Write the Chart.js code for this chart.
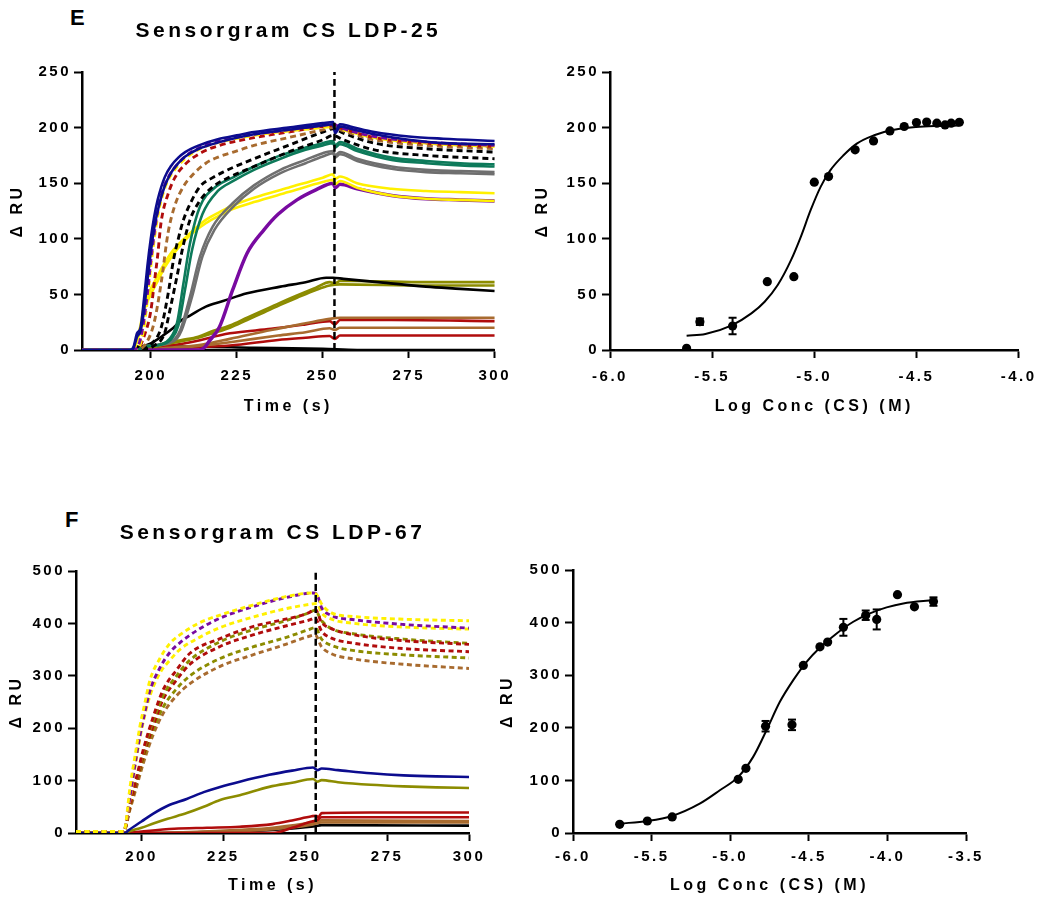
<!DOCTYPE html>
<html>
<head>
<meta charset="utf-8">
<script src="https://cdn.jsdelivr.net/npm/chart.js@4.4.1/dist/chart.umd.min.js"></script>
<style>
  body { margin: 0; background: #fff; width: 1046px; height: 899px; position: relative; overflow: hidden;
         font-family: "Liberation Sans", Arial, sans-serif; }
  canvas { position: absolute; }
  .tag { position: absolute; font-weight: bold; font-size: 22px; line-height: 22px; }
</style>
</head>
<body>
<div class="tag" style="left:70px;top:7px">E</div>
<div class="tag" style="left:65px;top:509px">F</div>
<canvas id="sensorE" width="520" height="440" style="left:0;top:0"></canvas>
<canvas id="doseE" width="526" height="440" style="left:520px;top:0"></canvas>
<canvas id="sensorF" width="520" height="439" style="left:0;top:460px"></canvas>
<canvas id="doseF" width="556" height="439" style="left:490px;top:460px"></canvas>
<script>
// ---- shared axes ----
const timeTicks = [200, 225, 250, 275, 300];
const ruTicksE = [0, 50, 100, 150, 200, 250];
const ruTicksF = [0, 100, 200, 300, 400, 500];
const logTicksE = [-6, -5.5, -5, -4.5, -4];
const logTicksF = [-6, -5.5, -5, -4.5, -4, -3.5];
const injectionEndE = 253.4;
const injectionEndF = 253.2;

// ---- sensorgram LDP-25 : [time, RU] ----
const eBlackBase = [[180,0],[194,0],[196,3],[210,3],[230,2],[250,1],[260,0],[300,0]];
const eRedLow = [[180,0],[195,0],[210,2],[223,4],[237,9],[245,11],[252,12.6],[253.5,10],[255,13],[300,13]];
const eBrownLow = [[180,0],[195,0],[205,1],[215,4],[223,7],[237,13],[245,16],[252,19.5],[253.5,18],[255,20],[300,20]];
const eRedMid = [[180,0],[195,0],[200,2],[210,6],[223,15],[235,19],[245,23],[252,26],[253.5,23],[255,27],[270,27],[300,26]];
const eBrownMid = [[180,0],[195,0],[205,2],[215,5],[223,10],[235,18],[245,24],[252,28],[255,29],[270,29],[300,29]];
const eOlive2 = [[180,0],[195,0],[200,2],[204,5],[209,8],[213.8,11],[218,15],[223,20],[228,27],[233,34],[238,41],[242.5,47],[248,54],[252,58],[255,59],[280,58],[300,58]];
const eOlive1 = [[180,0],[195,0],[200,2],[204,6],[209,9],[213.8,12],[218,17],[223,22],[228,29],[233,36],[238,43],[242.5,49],[248,56],[252,61],[253.6,60],[255,62],[260,62],[280,61],[300,61]];
const eBlackSolid = [[180,0],[194,0],[196,2],[200,6],[204,14],[206.6,20],[209,27],[211.4,31],[216,39],[221,44],[228,51],[237.7,57],[245,61],[251,65],[253,65],[256,64],[266,61],[280,57],[290,55],[300,53]];
const ePurple = [[180,0],[214,0],[215.5,2],[217,8],[220,21],[223.8,54],[228,87],[232.9,108],[237,122],[242.5,135],[248,144],[253,150],[253.6,146],[255,149],[260,145],[270,139],[280,136],[290,135],[300,134]];
const eYellow2 = [[180,0],[195,0],[196,8],[197,18],[198,35],[200,50],[202,62],[204,74],[207,88],[211,102],[216,114],[220,121],[224,127],[230,133],[240,142],[250,151],[253,153],[253.6,149],[255,152],[260,146],[270,139],[280,136],[290,135],[300,134]];
const eYellow1 = [[180,0],[195,0],[196,10],[197,22],[198,39],[200,55],[201.9,66],[204,78],[206.6,90],[211.4,105],[216,117],[220,124],[223.8,130],[230,137],[240,146],[250,155],[253,158],[253.6,154],[255,156],[260,150],[270,145],[280,143],[290,142],[300,141]];
const eGray2 = [[180,0],[196,0],[198,3],[205,6],[207.5,10],[209,18],[212,48],[215,84],[218.5,108],[224,129],[230,145],[237.7,159],[245,168],[250,174],[253,177],[253.6,173],[255,176],[260,170],[270,163],[280,160],[290,159],[300,158]];
const eGray1 = [[180,0],[196,0],[198,3],[205,6],[207,10],[208.6,18],[211.4,48],[214.3,84],[218,111],[223.8,132],[230,148],[237.7,162],[245,171],[250,177],[253,179],[253.6,175],[255,178],[260,172],[270,165],[280,162],[290,161],[300,160]];
const eGreen2 = [[180,0],[196,0],[198,3],[203,5],[206,10],[208,22],[210,55],[212,90],[215,122],[219.5,143],[224,152],[230,162],[237.7,172],[245,180],[250,184],[253,186],[253.6,182],[255,185],[260,179],[270,171],[280,168],[290,166],[300,165]];
const eGreen1 = [[180,0],[196,0],[198,3],[203,5],[205.5,10],[207.6,24],[209.5,60],[211.4,96],[214.3,129],[219,147],[223.8,155],[230,165],[237.7,175],[245,182],[250,186],[253,188],[253.6,184],[255,187],[260,181],[270,173],[280,170],[290,168],[300,167]];
const eBlackDash2 = [[180,0],[196,0],[201,4],[204,15],[205.5,35],[207.6,66],[209.5,95],[211.4,117],[214,133],[216,141],[219,149],[222.6,155],[230,165],[240,178],[250,189],[253,193],[256,189],[265,180],[280,175],[300,172]];
const eBlackDash1 = [[180,0],[196,0],[200,5],[203,20],[205,50],[206.6,81],[208,100],[209.5,117],[212,135],[214.3,147],[218,155],[221,160],[230,172],[240,184],[250,196],[253,199],[256,195],[265,186],[280,181],[300,178]];
const eBrownDash = [[180,0],[196,0],[199,8],[201,25],[203,60],[205,105],[207,130],[209.5,147],[212,157],[216,168],[220,174],[224,178],[230,184],[240,191],[250,198],[253,200],[256,197],[265,189],[280,184],[300,181]];
const eRedDash = [[180,0],[196,0],[198,12],[200,35],[201,60],[202,85],[203,115],[205,140],[207,155],[210,167],[215,178],[220,184],[230,191],[240,196],[250,201],[253,202],[256,199],[265,191],[280,186],[300,183]];
const eYellowDash = [[180,0],[196,0],[198,20],[199,45],[200,75],[202,120],[204,145],[206,158],[210,172],[215,182],[220,187],[230,193],[240,197],[250,200],[253,201],[256,198],[265,191],[280,186],[300,183]];
const ePurpleDash = [[180,0],[195,0],[197,10],[199,50],[200,80],[202,125],[204,148],[206,160],[210,174],[215,183],[220,188],[230,194],[240,198],[250,202],[253,203],[256,199],[265,192],[280,187],[300,184]];
const eBlue2 = [[180,0],[194,0],[195,2],[196,12],[197,17],[198,35],[199,62],[200,88],[201,110],[202,125],[204,147],[206,160],[208,168],[210,174],[214,181],[220,187],[230,194],[240,198],[250,202],[253,203],[253.6,195],[255,201],[258,199],[265,194],[275,189],[285,186],[300,185]];
const eBlue1 = [[180,0],[194,0],[195,3],[196,15],[197,20],[198,45],[199,75],[200,100],[201,120],[202,135],[204,155],[206,166],[208,173],[210,178],[214,184],[220,190],[225,193],[230,196],[240,200],[250,204],[253,205],[253.6,197],[255,203],[258,201],[265,196],[275,192],[285,190],[300,188]];

// ---- sensorgram LDP-67 : [time, RU] ----
const fBlack = [[180,0],[200,0],[220,2],[240,6],[250,11],[253,13],[255,15],[300,14]];
const fBrown2 = [[180,0],[200,0],[220,2],[235,5],[245,10],[252,16],[255,20],[300,20]];
const fBrown1 = [[180,0],[200,0],[215,2],[230,6],[240,10],[250,18],[253,21],[255,24],[300,23]];
const fRed2 = [[180,0],[240,0],[246,10],[252,22],[253.5,24],[255,30],[300,30]];
const fRed1 = [[180,0],[195,0],[200,3],[210,8],[220,10],[230,12],[240,17],[246,24],[252,32],[253.3,33],[254,30],[255,38],[270,39],[300,39]];
const fOlive = [[180,0],[195,0],[196,3],[200,10],[203.6,18],[208,27],[213.8,38],[219,50],[224,63],[230,72],[239,88],[246,96],[252.4,103],[253.7,98],[255,101],[260,97],[270,92],[280,89],[290,87],[300,86]];
const fBlue = [[180,0],[195,0],[196,5],[200,22],[203.6,37],[208,52],[213.8,65],[219,78],[224,88],[230,98],[239,111],[246,119],[252.4,125],[253.7,120],[255,123],[260,120],[270,114],[280,110],[290,108],[300,107]];
const fBrownDash = [[180,2],[194.5,2],[196.5,45],[198.5,88],[200.5,132],[203.6,188],[206.6,228],[210.7,262],[214.8,285],[224,318],[234,340],[244,360],[251,375],[253,378],[255,355],[258,342],[265,332],[280,322],[300,314]];
const fOliveDash2 = [[180,2],[194.5,2],[196.5,50],[198.5,95],[200.5,140],[203.6,198],[206.6,240],[210.7,275],[214.8,300],[224,333],[234,355],[244,373],[251,388],[253,392],[255,370],[258,358],[265,348],[280,340],[300,334]];
const fRedDash2 = [[180,2],[194.5,2],[196.5,52],[198.5,98],[200.5,146],[203.6,205],[206.6,255],[210.7,292],[214.8,322],[224,356],[234,378],[244,395],[251,406],[253,410],[255,385],[258,372],[265,362],[280,352],[300,346]];
const fOliveDash1 = [[180,2],[194.5,2],[196.5,55],[198.5,103],[200.5,152],[203.6,215],[206.6,262],[210.7,300],[214.8,330],[224,365],[234,388],[244,405],[251,420],[253,425],[255,405],[258,390],[265,380],[280,370],[300,362]];
const fRedDash1 = [[180,2],[194.5,2],[196.5,57],[198.5,107],[200.5,158],[203.6,222],[206.6,273],[210.7,311],[214.8,343],[224,371],[234,394],[244,408],[251,420],[253,427],[255,402],[258,390],[265,378],[280,367],[300,360]];
const fYellowDash2 = [[180,3],[194.5,3],[196.5,65],[198,125],[199.5,180],[201,225],[202.6,262],[205.6,305],[208.7,330],[211.7,350],[217.3,372],[224,392],[234,412],[244,428],[252,437],[253.5,438],[255,420],[258,408],[265,400],[280,393],[300,389]];
const fPurpleDash = [[180,3],[194.5,3],[196.5,70],[198,130],[199.5,185],[201,230],[202.6,272],[205.6,315],[208.7,345],[211.7,363],[217.3,388],[224,410],[234,432],[244,449],[252.4,458],[253.5,456],[255,430],[258,415],[265,407],[280,398],[300,391]];
const fYellowDash1 = [[180,3],[194.5,3],[195,10],[196.5,88],[198,146],[199.5,203],[201,247],[202.6,292],[205.6,333],[208.7,362],[211.7,378],[217.3,400],[224,416],[234,435],[244,451],[252.4,458],[253.5,455],[255,437],[258,420],[265,413],[280,408],[300,405]];

// ---- dose response LDP-25 ----
const logConcE = [-5.625, -5.56, -5.40, -5.23, -5.10, -5.0, -4.93, -4.80, -4.71, -4.63, -4.56, -4.50, -4.45, -4.40, -4.36, -4.33, -4.29];
const respE = [1.5, 25.4, 21.6, 61.4, 65.9, 150.9, 156, 180, 188, 197, 201, 204.5, 205, 204, 202.4, 204, 204.8];
const semE = [0, 3, 7.5, 0, 0, 0, 0, 0, 0, 0, 0, 0, 0, 0, 0, 0, 0];
const fitLogE = [-5.625, -5.533, -5.404, -5.308, -5.243, -5.179, -5.114, -5.066, -5.018, -4.969, -4.921, -4.857, -4.792, -4.707, -4.625, -4.502, -4.406, -4.29];
const fitRespE = [12.9, 14.4, 22.2, 32.9, 43.4, 58.4, 80.8, 101.8, 125.7, 146.7, 161.7, 175.1, 185.6, 193.1, 197.6, 200.6, 201.5, 201.8];

// ---- dose response LDP-67 ----
const logConcF = [-5.703, -5.527, -5.369, -4.949, -4.90, -4.775, -4.607, -4.535, -4.429, -4.38, -4.28, -4.138, -4.068, -3.936, -3.828, -3.707];
const respF = [16.5, 22.8, 30.5, 102, 123, 203, 205.6, 318.5, 354, 363, 391, 414, 406, 453, 430, 440];
const semF = [0, 0, 0, 0, 0, 10, 10, 0, 0, 0, 16, 9, 19, 0, 0, 8];
const fitLogF = [-5.703, -5.527, -5.370, -5.194, -5.066, -4.949, -4.854, -4.769, -4.684, -4.599, -4.514, -4.430, -4.323, -4.217, -4.111, -4.005, -3.899, -3.708];
const fitRespF = [17.8, 22.8, 32.4, 55.8, 81.2, 106.6, 144.7, 195.4, 249.4, 290.6, 325.5, 352.2, 379.4, 401.6, 417.5, 428.9, 436.5, 442.9];

const COL = { navy: '#0c0c8e', purple: '#780aa0', red: '#b00c0c', yellow: '#fff000', brown: '#a86b2f',
              green: '#0d7a5a', gray: '#6f6f6f', olive: '#8c8c00', black: '#000000' };

Chart.defaults.font.family = '"Liberation Sans", Arial, sans-serif';
Chart.defaults.font.weight = 'bold';
Chart.defaults.font.size = 15;
Chart.defaults.color = '#000';
Chart.defaults.animation = false;

// letter spaced text like the original figure:
// titles are drawn before the datasets, tick labels (z = 1) after them
Chart.register({
  id: 'spacing',
  beforeLayout(chart) { chart.ctx.letterSpacing = '2.5px'; },
  beforeDraw(chart) { chart.ctx.letterSpacing = '3.5px'; },
  afterDatasetsDraw(chart) { chart.ctx.letterSpacing = '2.5px'; }
});

const pts = (pairs) => pairs.map(([x, y]) => ({ x, y }));
const zip = (xs, ys) => xs.map((x, i) => ({ x, y: ys[i] }));

function lineSet(pairs, color, dash, width) {
  return {
    data: pts(pairs), showLine: true, borderColor: color, borderWidth: width || (dash ? 2.9 : 2.6),
    borderDash: dash ? dash : [], pointRadius: 0, cubicInterpolationMode: 'monotone'
  };
}

const tickFont = { size: 15, weight: 'bold' };

function buildScales(f) {
  return {
    x: {
      type: 'linear', min: f.xMin, max: f.xMax,
      afterFit: s => { s.height = f.xH; },
      afterBuildTicks: s => { s.ticks = f.xTicks.map(v => ({ value: v })); },
      ticks: { z: 1, font: tickFont, padding: f.xTickPad, maxRotation: 0, autoSkip: false, callback: f.xFmt },
      grid: { drawOnChartArea: false, tickLength: 8, tickWidth: 2, tickColor: '#000', color: '#000' },
      border: { color: '#000', width: 2.5 },
      title: { display: true, text: f.xTitle, font: { size: 16 }, padding: { top: 0, bottom: f.xTitlePad } }
    },
    y: {
      type: 'linear', min: f.yTicks[0], max: f.yTicks[f.yTicks.length - 1],
      afterFit: s => { s.width = f.yW; },
      afterBuildTicks: s => { s.ticks = f.yTicks.map(v => ({ value: v })); },
      ticks: { z: 1, font: tickFont, padding: 3, autoSkip: false },
      grid: { drawOnChartArea: false, tickLength: 8, tickWidth: 2, tickColor: '#000', color: '#000' },
      border: { color: '#000', width: 2.5 },
      title: { display: true, text: 'Δ RU', font: { size: 16 }, padding: { top: f.yTitlePad, bottom: 0 } }
    }
  };
}

function makeChart(id, datasets, f) {
  datasets.forEach((d, i) => { d.order = -i; });
  new Chart(document.getElementById(id), {
    type: 'scatter',
    data: { datasets },
    options: {
      responsive: false,
      layout: { padding: f.pad },
      plugins: {
        legend: { display: false },
        tooltip: { enabled: false },
        title: f.title ? { display: true, text: f.title, fullSize: false, font: { size: 21 },
                           padding: { top: f.titleTop, bottom: f.titleBottom } } : { display: false }
      },
      scales: buildScales(f)
    }
  });
}

const dashE = [6, 4];
const dashF = [5, 3.5];

// ---- panel E, sensorgram ----
makeChart('sensorE', [
  lineSet(eBlackBase, COL.black), lineSet(eRedLow, COL.red), lineSet(eBrownLow, COL.brown),
  lineSet(eRedMid, COL.red), lineSet(eBrownMid, COL.brown), lineSet(eOlive2, COL.olive),
  lineSet(eOlive1, COL.olive), lineSet(eBlackSolid, COL.black), lineSet(ePurple, COL.purple, null, 3.5),
  lineSet(eYellow2, COL.yellow), lineSet(eYellow1, COL.yellow), lineSet(eGray2, COL.gray),
  lineSet(eGray1, COL.gray), lineSet(eGreen2, COL.green), lineSet(eGreen1, COL.green),
  lineSet(eBlackDash2, COL.black, dashE), lineSet(eBlackDash1, COL.black, dashE),
  lineSet(eBrownDash, COL.brown, dashE), lineSet(eRedDash, COL.red, dashE),
  lineSet(eYellowDash, COL.yellow, dashE), lineSet(ePurpleDash, COL.purple, dashE),
  lineSet(eBlue2, COL.navy), lineSet(eBlue1, COL.navy),
  lineSet([[injectionEndE, 0], [injectionEndE, 250]], COL.black, [7, 4], 2.5)
], {
  pad: { left: 0, top: 0, right: 19, bottom: 0 },
  title: 'Sensorgram CS LDP-25', titleTop: 18.4, titleBottom: 28.4,
  xMin: 180, xMax: 300, xTicks: timeTicks, xFmt: v => v, xTitle: 'Time (s)',
  yTicks: ruTicksE, yW: 82, xH: 90, xTickPad: 9, xTitlePad: 24, yTitlePad: 8.4
});

// ---- dose response helpers ----
function errorBars(xs, ys, es) {
  const out = [];
  xs.forEach((x, i) => {
    if (es[i] > 0) out.push({ x, y: ys[i] - es[i] }, { x, y: ys[i] + es[i] }, { x, y: null });
  });
  return out;
}
function doseSets(fx, fy, xs, ys, es) {
  return [
    { data: zip(fx, fy), showLine: true, borderColor: '#000', borderWidth: 2, pointRadius: 0, cubicInterpolationMode: 'monotone' },
    { data: errorBars(xs, ys, es), showLine: true, spanGaps: false, borderColor: '#000', borderWidth: 2,
      pointStyle: 'line', pointRadius: 4, pointBorderWidth: 2, pointBorderColor: '#000' },
    { data: zip(xs, ys), showLine: false, pointRadius: 4.6, pointBackgroundColor: '#000', pointBorderWidth: 0 }
  ];
}

// ---- panel E, dose response ----
makeChart('doseE', doseSets(fitLogE, fitRespE, logConcE, respE, semE), {
  pad: { left: 0, top: 72, right: 22, bottom: 0 },
  xMin: -6, xMax: -4, xTicks: logTicksE, xFmt: v => v.toFixed(1), xTitle: 'Log Conc (CS) (M)',
  yTicks: ruTicksE, yW: 90, xH: 90, xTickPad: 9.5, xTitlePad: 24, yTitlePad: 13.4
});

// ---- panel F, sensorgram ----
makeChart('sensorF', [
  lineSet(fBlack, COL.black), lineSet(fBrown2, COL.brown), lineSet(fBrown1, COL.brown),
  lineSet(fRed2, COL.red), lineSet(fRed1, COL.red), lineSet(fOlive, COL.olive), lineSet(fBlue, COL.navy),
  lineSet(fBrownDash, COL.brown, dashF), lineSet(fOliveDash2, COL.olive, dashF),
  lineSet(fRedDash2, COL.red, dashF), lineSet(fOliveDash1, COL.olive, dashF),
  lineSet(fRedDash1, COL.red, dashF), lineSet(fYellowDash2, COL.yellow, dashF),
  lineSet(fPurpleDash, COL.purple, dashF), lineSet(fYellowDash1, COL.yellow, dashF),
  lineSet([[injectionEndF, 0], [injectionEndF, 500]], COL.black, [7, 4], 2.5)
], {
  pad: { left: 0, top: 0, right: 51, bottom: 0 },
  title: 'Sensorgram CS LDP-67', titleTop: 60.4, titleBottom: 25.4,
  xMin: 180, xMax: 300, xTicks: timeTicks, xFmt: v => v, xTitle: 'Time (s)',
  yTicks: ruTicksF, yW: 76, xH: 66, xTickPad: 7, xTitlePad: 3.4, yTitlePad: 7.4
});

// ---- panel F, dose response ----
makeChart('doseF', doseSets(fitLogF, fitRespF, logConcF, respF, semF), {
  pad: { left: 0, top: 110, right: 80, bottom: 0 },
  xMin: -6, xMax: -3.5, xTicks: logTicksF, xFmt: v => v.toFixed(1), xTitle: 'Log Conc (CS) (M)',
  yTicks: ruTicksF, yW: 83, xH: 66, xTickPad: 7, xTitlePad: 3.4, yTitlePad: 8.4
});
</script>
</body>
</html>
